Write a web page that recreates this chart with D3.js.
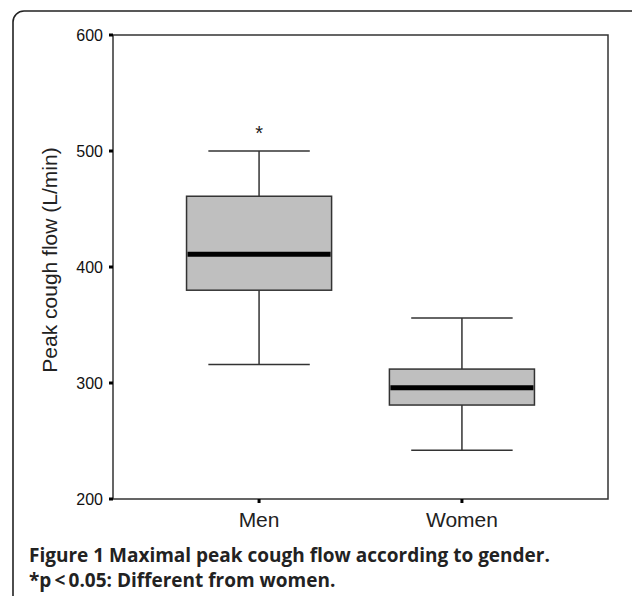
<!DOCTYPE html>
<html>
<head>
<meta charset="utf-8">
<script src="https://cdn.jsdelivr.net/npm/d3@7"></script>
<style>
  body { margin: 0; background: #fff; }
  svg { display: block; }
</style>
</head>
<body>
<svg id="chart" width="632" height="596"></svg>
<script>
// data
const categories = ['Men', 'Women']
const whiskerLow = [316, 242]
const q1 = [380, 281]
const median = [411, 296]
const q3 = [461, 312]
const whiskerHigh = [500, 356]
const starred = [true, false]
const yTicks = [200, 300, 400, 500, 600]

const svg = d3.select('#chart')

// outer rounded frame (runs off right / bottom edge)
svg.append('rect')
  .attr('x', 13).attr('y', 11)
  .attr('width', 640).attr('height', 620)
  .attr('rx', 11)
  .attr('fill', 'none')
  .attr('stroke', '#222')
  .attr('stroke-width', 1.6)

const plot = {left: 113, right: 608, top: 35, bottom: 499}

const y = d3.scaleLinear().domain([200, 600]).range([plot.bottom, plot.top])
const x = d3.scalePoint().domain(categories).range([plot.left, plot.right]).padding(0.72)
const step = x.step()
const boxW = step * 0.715
const capW = step * 0.5

// plot frame
svg.append('rect')
  .attr('x', plot.left).attr('y', plot.top)
  .attr('width', plot.right - plot.left).attr('height', plot.bottom - plot.top)
  .attr('fill', 'none')
  .attr('stroke', '#333')
  .attr('stroke-width', 1.5)

// boxes
const g = svg.append('g')
categories.forEach((c, i) => {
  const cx = x(c)
  const line = (x1, y1, x2, y2) => g.append('line')
    .attr('x1', x1).attr('y1', y1).attr('x2', x2).attr('y2', y2)
    .attr('stroke', '#333').attr('stroke-width', 1.5)
  line(cx, y(whiskerHigh[i]), cx, y(q3[i]))
  line(cx, y(q1[i]), cx, y(whiskerLow[i]))
  line(cx - capW / 2, y(whiskerHigh[i]), cx + capW / 2, y(whiskerHigh[i]))
  line(cx - capW / 2, y(whiskerLow[i]), cx + capW / 2, y(whiskerLow[i]))
  g.append('rect')
    .attr('x', cx - boxW / 2).attr('y', y(q3[i]))
    .attr('width', boxW).attr('height', y(q1[i]) - y(q3[i]))
    .attr('fill', '#bfbfbf')
    .attr('stroke', '#333').attr('stroke-width', 1.5)
  g.append('line')
    .attr('x1', cx - boxW / 2 + 1).attr('x2', cx + boxW / 2 - 1)
    .attr('y1', y(median[i])).attr('y2', y(median[i]))
    .attr('stroke', '#000').attr('stroke-width', 5)
  if (starred[i]) {
    g.append('text')
      .attr('x', cx).attr('y', y(whiskerHigh[i]) - 11)
      .attr('text-anchor', 'middle')
      .attr('font-family', 'Liberation Sans, Arial, sans-serif')
      .attr('font-size', 20)
      .attr('fill', '#222')
      .text('*')
  }
})

// y axis ticks + labels
const yAxis = svg.append('g').attr('font-family', 'Liberation Sans, Arial, sans-serif')
yTicks.forEach(t => {
  yAxis.append('rect')
    .attr('x', plot.left - 4).attr('y', y(t) - 1.5)
    .attr('width', 4).attr('height', 3).attr('fill', '#000')
  yAxis.append('text')
    .attr('x', plot.left - 10).attr('y', y(t))
    .attr('dy', '0.35em')
    .attr('text-anchor', 'end')
    .attr('font-size', 16)
    .attr('fill', '#111')
    .text(t)
})

// x axis ticks + labels
const xAxis = svg.append('g').attr('font-family', 'Liberation Sans, Arial, sans-serif')
categories.forEach(c => {
  xAxis.append('rect')
    .attr('x', x(c) - 1.5).attr('y', plot.bottom)
    .attr('width', 3).attr('height', 4).attr('fill', '#000')
  xAxis.append('text')
    .attr('x', x(c)).attr('y', 527)
    .attr('text-anchor', 'middle')
    .attr('font-size', 21)
    .attr('fill', '#222')
    .text(c)
})

// y label
svg.append('text')
  .attr('transform', `translate(57, 260) rotate(-90)`)
  .attr('text-anchor', 'middle')
  .attr('font-family', 'Liberation Sans, Arial, sans-serif')
  .attr('font-size', 21)
  .attr('fill', '#222')
  .text('Peak cough flow (L/min)')

// caption
const cap = svg.append('text')
  .attr('font-family', 'Open Sans, sans-serif')
  .attr('font-weight', 'bold')
  .attr('font-size', 19)
  .attr('fill', '#222')
cap.append('tspan').attr('x', 29).attr('y', 562)
  .text('Figure 1 Maximal peak cough flow according to gender.')
cap.append('tspan').attr('x', 29).attr('y', 587)
  .text('*p\u2009<\u20090.05: Different from women.')
</script>
</body>
</html>
